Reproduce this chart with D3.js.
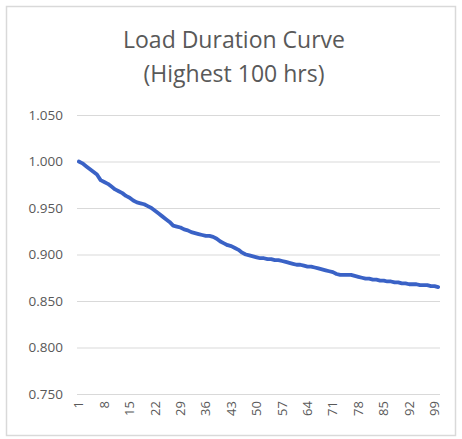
<!DOCTYPE html>
<html>
<head>
<meta charset="utf-8">
<script src="https://cdn.jsdelivr.net/npm/d3@7"></script>
<style>
  html, body { margin: 0; padding: 0; background: #ffffff; }
  svg { display: block; }
</style>
</head>
<body>
<script>
const titleLines = ["Load Duration Curve", "(Highest 100 hrs)"];
const hours = d3.range(1, 101);
const loadValues = [
  1.000, 0.998, 0.995, 0.992, 0.989, 0.986, 0.980, 0.978, 0.976, 0.973,
  0.970, 0.968, 0.966, 0.963, 0.961, 0.958, 0.956, 0.955, 0.954, 0.952,
  0.950, 0.947, 0.944, 0.941, 0.938, 0.935, 0.931, 0.930, 0.929, 0.927,
  0.926, 0.924, 0.923, 0.922, 0.921, 0.920, 0.920, 0.919, 0.917, 0.914,
  0.912, 0.910, 0.909, 0.907, 0.905, 0.902, 0.900, 0.899, 0.898, 0.897,
  0.896, 0.896, 0.895, 0.895, 0.894, 0.894, 0.893, 0.892, 0.891, 0.890,
  0.889, 0.889, 0.888, 0.887, 0.887, 0.886, 0.885, 0.884, 0.883, 0.882,
  0.881, 0.879, 0.878, 0.878, 0.878, 0.878, 0.877, 0.876, 0.875, 0.874,
  0.874, 0.873, 0.873, 0.872, 0.872, 0.871, 0.871, 0.870, 0.870, 0.869,
  0.869, 0.868, 0.868, 0.868, 0.867, 0.867, 0.867, 0.866, 0.866, 0.865
];
const yTicks = [0.750, 0.800, 0.850, 0.900, 0.950, 1.000, 1.050];
const xTickLabels = [1, 8, 15, 22, 29, 36, 43, 50, 57, 64, 71, 78, 85, 92, 99];

const W = 462, H = 439;
const margin = { left: 77, right: 22, top: 115, bottom: 45 };
const font = "'Open Sans', sans-serif";

const svg = d3.select("body").append("svg").attr("width", W).attr("height", H);

// chart frame
svg.append("rect")
  .attr("x", 6.5).attr("y", 6.5).attr("width", 449).attr("height", 429)
  .attr("fill", "#ffffff").attr("stroke", "#d9d9d9").attr("stroke-width", 1.5);

const x = d3.scaleBand().domain(hours).range([margin.left, W - margin.right]);
const y = d3.scaleLinear().domain([0.75, 1.05]).range([H - margin.bottom, margin.top]);

// title
svg.append("g").selectAll("text").data(titleLines).join("text")
  .attr("x", 234).attr("y", (d, i) => 48 + i * 34)
  .attr("text-anchor", "middle")
  .attr("font-family", font).attr("font-size", 23)
  .attr("fill", "#595959")
  .text(d => d);

// y axis with gridlines
const yAxis = svg.append("g")
  .attr("transform", `translate(${margin.left},0)`)
  .call(d3.axisLeft(y).tickValues(yTicks).tickFormat(d3.format(".3f"))
    .tickSize(-(W - margin.right - margin.left)).tickPadding(14));
yAxis.select(".domain").remove();
yAxis.selectAll(".tick line").attr("stroke", "#d9d9d9").attr("stroke-width", 1);
yAxis.selectAll(".tick text")
  .attr("font-family", font).attr("font-size", 13.5).attr("fill", "#595959");

// x axis
const xAxis = svg.append("g")
  .attr("transform", `translate(0,${H - margin.bottom})`)
  .call(d3.axisBottom(x).tickValues(xTickLabels).tickSize(0).tickPadding(0));
xAxis.select(".domain").remove();
xAxis.selectAll(".tick text")
  .attr("font-family", font).attr("font-size", 13).attr("fill", "#595959")
  .attr("transform", "rotate(-90)")
  .attr("text-anchor", "end")
  .attr("x", -7).attr("y", 0).attr("dy", "0.35em");

// line
const line = d3.line()
  .x((d, i) => x(hours[i]) + x.bandwidth() / 2)
  .y(d => y(d));
svg.append("path")
  .datum(loadValues)
  .attr("fill", "none")
  .attr("stroke", "#3a62c6")
  .attr("stroke-width", 3.8)
  .attr("stroke-linejoin", "round")
  .attr("stroke-linecap", "round")
  .attr("d", line);
</script>
</body>
</html>
